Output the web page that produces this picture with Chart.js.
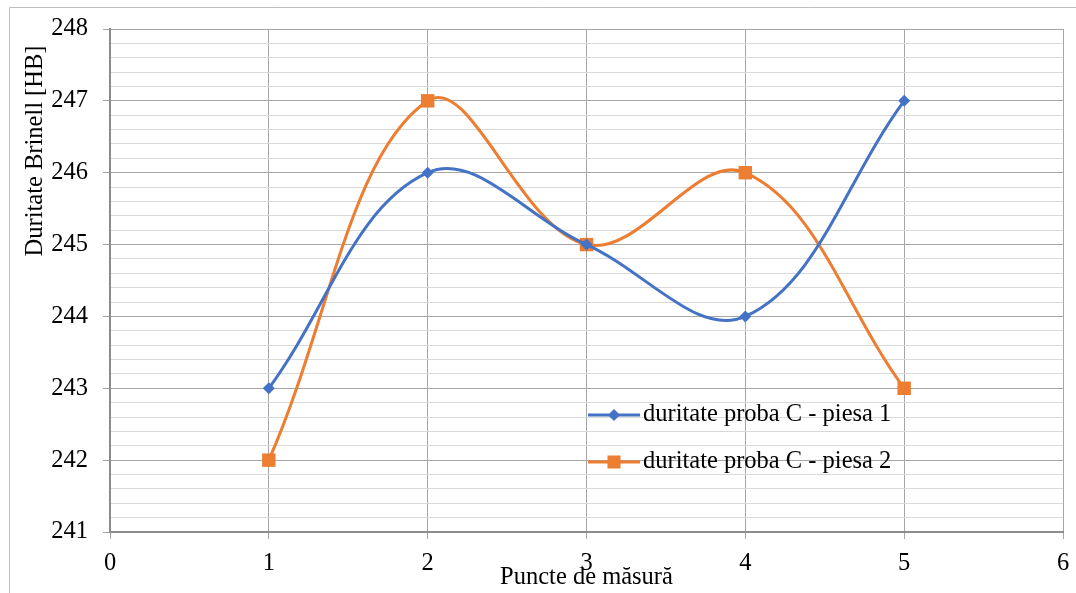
<!DOCTYPE html>
<html>
<head>
<meta charset="utf-8">
<script src="https://cdn.jsdelivr.net/npm/chart.js"></script>
<style>
  html, body { margin: 0; padding: 0; background: #fff; }
  #wrap { width: 1076px; height: 593px; position: relative; }
</style>
</head>
<body>
<div id="wrap"><canvas id="myChart" width="1076" height="593"></canvas></div>
<script>
// data
const xPoints = [1, 2, 3, 4, 5];
const piesa1 = [243, 246, 245, 244, 247];
const piesa2 = [242, 247, 245, 246, 243];
const seriesNames = ['duritate proba C - piesa 1', 'duritate proba C - piesa 2'];
const xTitle = 'Puncte de măsură';
const yTitle = 'Duritate Brinell [HB]';

const FONT = '"Liberation Serif", "Times New Roman", serif';
const blue = '#4472C4';
const orange = '#ED7D31';

function toXY(ys) {
    return xPoints.map((x, i) => ({ x: x, y: ys[i] }));
}

function isWhole(v) {
    return Math.abs(v - Math.round(v)) < 1e-6;
}

// titles, legend and outer frame drawn by hand (Excel-like placement)
const extras = {
    id: 'extras',
    afterDraw(chart) {
        const ctx = chart.ctx;
        ctx.save();
        // outer frame
        ctx.strokeStyle = '#bfbfbf';
        ctx.lineWidth = 1;
        ctx.beginPath();
        ctx.moveTo(9.5, 593);
        ctx.lineTo(9.5, 7.5);
        ctx.lineTo(1076, 7.5);
        ctx.stroke();

        ctx.fillStyle = '#000';
        ctx.font = '24.5px ' + FONT;
        ctx.textAlign = 'center';
        ctx.textBaseline = 'middle';
        // x title
        ctx.fillText(xTitle, (chart.chartArea.left + chart.chartArea.right) / 2, 578);
        // y title
        ctx.save();
        ctx.translate(36, 151);
        ctx.rotate(-Math.PI / 2);
        ctx.fillText(yTitle, 0, 0);
        ctx.restore();

        // legend
        const rows = [
            { y: 415, color: blue, shape: 'diamond' },
            { y: 462, color: orange, shape: 'square' }
        ];
        rows.forEach((r, i) => {
            ctx.strokeStyle = r.color;
            ctx.lineWidth = 3;
            ctx.beginPath();
            ctx.moveTo(588, r.y);
            ctx.lineTo(640, r.y);
            ctx.stroke();
            ctx.fillStyle = r.color;
            ctx.beginPath();
            if (r.shape === 'diamond') {
                ctx.moveTo(614 - 6, r.y);
                ctx.lineTo(614, r.y - 6);
                ctx.lineTo(614 + 6, r.y);
                ctx.lineTo(614, r.y + 6);
                ctx.closePath();
            } else {
                ctx.rect(614 - 6.5, r.y - 6.5, 13, 13);
            }
            ctx.fill();
            ctx.fillStyle = '#000';
            ctx.textAlign = 'left';
            ctx.fillText(seriesNames[i], 643, r.y);
        });
        ctx.restore();
    }
};

const ctx = document.getElementById('myChart');

new Chart(ctx, {
    type: 'line',
    data: {
        datasets: [{
            label: seriesNames[0],
            data: toXY(piesa1),
            borderColor: blue,
            backgroundColor: blue,
            borderWidth: 3,
            pointStyle: 'rectRot',
            pointRadius: 6,
            pointBorderWidth: 0,
            tension: 0.38
        }, {
            label: seriesNames[1],
            data: toXY(piesa2),
            borderColor: orange,
            backgroundColor: orange,
            borderWidth: 3,
            pointStyle: 'rect',
            pointRadius: 9.5,
            pointBorderWidth: 0,
            tension: 0.38
        }]
    },
    options: {
        responsive: false,
        animation: false,
        layout: { padding: { top: 29, right: 13, left: 0, bottom: 0 } },
        plugins: {
            legend: { display: false },
            tooltip: { enabled: false }
        },
        scales: {
            x: {
                type: 'linear',
                min: 0,
                max: 6,
                ticks: {
                    stepSize: 1,
                    padding: 10,
                    color: '#000',
                    font: { family: FONT, size: 24.5 }
                },
                grid: {
                    color: '#a6a6a6',
                    tickColor: '#a6a6a6',
                    tickLength: 7
                },
                border: { color: '#8c8c8c', width: 2 },
                afterFit(scale) {
                    scale.height = 61;
                    scale.paddingLeft = 0;
                    scale.paddingRight = 0;
                }
            },
            y: {
                min: 241,
                max: 248,
                ticks: {
                    stepSize: 0.2,
                    autoSkip: false,
                    padding: 15,
                    color: '#000',
                    font: { family: FONT, size: 24.5 },
                    callback: (v) => isWhole(v) ? String(Math.round(v)) : ''
                },
                grid: {
                    color: (c) => isWhole(c.tick.value) ? '#a6a6a6' : '#d9d9d9',
                    tickColor: (c) => isWhole(c.tick.value) ? '#a6a6a6' : 'rgba(0,0,0,0)',
                    tickLength: 7
                },
                border: { color: '#8c8c8c', width: 2 },
                afterFit(scale) {
                    scale.width = 110;
                    scale.paddingTop = 0;
                    scale.paddingBottom = 0;
                }
            }
        }
    },
    plugins: [extras]
});
</script>
</body>
</html>
